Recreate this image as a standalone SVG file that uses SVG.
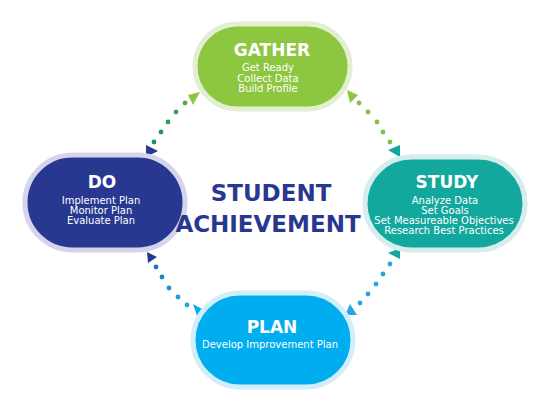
<svg xmlns="http://www.w3.org/2000/svg" width="550" height="414" viewBox="0 0 550 414">
<style>
  .title{font-family:"DejaVu Sans",Verdana,sans-serif;font-weight:bold;font-size:17px;fill:#ffffff;text-anchor:middle}
  .sub{font-family:"DejaVu Sans",Verdana,sans-serif;font-size:10px;fill:#ffffff;text-anchor:middle}
  .center{font-family:"DejaVu Sans",Verdana,sans-serif;font-weight:bold;font-size:23px;fill:#283891;text-anchor:middle}
</style>
<rect width="550" height="414" fill="#ffffff"/>
<g id="connectors">
  <g id="gather-do">
    <polygon points="188,95 200,92 193,105" fill="#8dc63f"/>
    <circle cx="185" cy="103" r="2.4" fill="#4eac48"/>
    <circle cx="176" cy="112" r="2.4" fill="#3aa452"/>
    <circle cx="168" cy="122" r="2.4" fill="#2c9c5c"/>
    <circle cx="161" cy="132" r="2.4" fill="#229566"/>
    <circle cx="154" cy="142" r="2.4" fill="#1a8e6e"/>
    <polygon points="146,145 158,151 146,157" fill="#283891"/>
  </g>
  <g id="gather-study">
    <polygon points="347,90 358,95 350,103" fill="#8dc63f"/>
    <circle cx="359" cy="103" r="2.4" fill="#7dc242"/>
    <circle cx="368" cy="112" r="2.4" fill="#7dc242"/>
    <circle cx="377" cy="122" r="2.4" fill="#7dc242"/>
    <circle cx="383" cy="132" r="2.4" fill="#7dc242"/>
    <circle cx="390" cy="142" r="2.4" fill="#7dc242"/>
    <polygon points="388,150 400,145 400,157" fill="#13a89e"/>
  </g>
  <g id="study-plan">
    <polygon points="388,253 400,248 400,259" fill="#13a89e"/>
    <circle cx="390" cy="264" r="2.4" fill="#27a6da"/>
    <circle cx="383" cy="274" r="2.4" fill="#27a6da"/>
    <circle cx="376" cy="284" r="2.4" fill="#27a6da"/>
    <circle cx="368" cy="294" r="2.4" fill="#27a6da"/>
    <circle cx="360" cy="303" r="2.4" fill="#27a6da"/>
    <polygon points="345,315 350,304 357,315" fill="#27a6da"/>
  </g>
  <g id="plan-do">
    <polygon points="147,252 157,257 148,263" fill="#283891"/>
    <circle cx="156" cy="267" r="2.4" fill="#1b75bc"/>
    <circle cx="162" cy="277" r="2.4" fill="#1b83c6"/>
    <circle cx="169" cy="288" r="2.4" fill="#1b91d0"/>
    <circle cx="178" cy="297" r="2.4" fill="#1b9fda"/>
    <circle cx="187" cy="305" r="2.4" fill="#1baae2"/>
    <polygon points="193,304 202,309 197,316" fill="#00aeef"/>
  </g>
</g>
<g id="gather">
  <rect x="195" y="24" width="155" height="85" rx="42.5" fill="#8dc63f" stroke="#e2efd2" stroke-width="5"/>
  <text class="title" x="272" y="56">GATHER</text>
  <text class="sub" x="268" y="71">Get Ready</text>
  <text class="sub" x="268" y="81.5">Collect Data</text>
  <text class="sub" x="268" y="92">Build Profile</text>
</g>
<g id="do">
  <rect x="25" y="155" width="160" height="95" rx="47.5" fill="#283891" stroke="#d4d5ec" stroke-width="5"/>
  <text class="title" x="102" y="188">DO</text>
  <text class="sub" x="101" y="204">Implement Plan</text>
  <text class="sub" x="101" y="214">Monitor Plan</text>
  <text class="sub" x="101" y="224">Evaluate Plan</text>
</g>
<g id="study">
  <rect x="365" y="157" width="160" height="93" rx="46.5" fill="#13a89e" stroke="#d5eeec" stroke-width="5"/>
  <text class="title" x="447" y="188">STUDY</text>
  <text class="sub" x="445" y="204">Analyze Data</text>
  <text class="sub" x="445" y="214">Set Goals</text>
  <text class="sub" x="444" y="224">Set Measureable Objectives</text>
  <text class="sub" x="444" y="234">Research Best Practices</text>
</g>
<g id="plan">
  <rect x="193" y="293" width="160" height="94" rx="47" fill="#00aeef" stroke="#d2eefa" stroke-width="5"/>
  <text class="title" x="272" y="333">PLAN</text>
  <text class="sub" x="270" y="347.5">Develop Improvement Plan</text>
</g>
<g id="center-label">
  <text class="center" x="271" y="201">STUDENT</text>
  <text class="center" x="268" y="232">ACHIEVEMENT</text>
</g>
</svg>
